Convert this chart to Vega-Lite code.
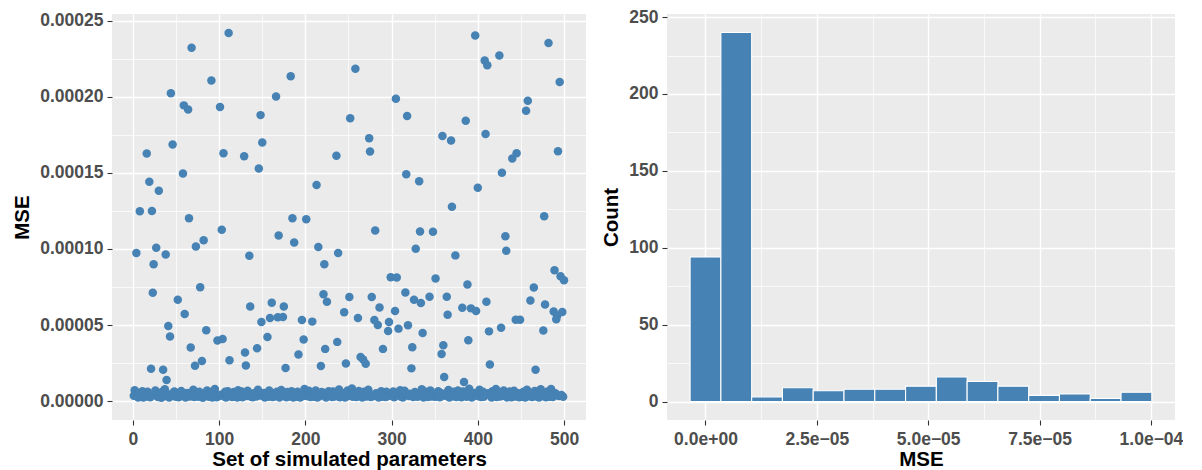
{
  "$schema": "https://vega.github.io/schema/vega-lite/v6.json",
  "background": "white",
  "padding": {"left": 12, "top": 8, "right": 0, "bottom": 0},
  "bounds": "flush",
  "spacing": 81,
  "config": {
    "font": "Liberation Sans",
    "view": {"fill": "#EBEBEB", "stroke": null},
    "axis": {
      "labelFont": "Liberation Sans", "labelFontSize": 17.5, "labelFontWeight": "bold", "labelColor": "#4D4D4D",
      "titleFont": "Liberation Sans", "titleFontSize": 20.5, "titleFontWeight": "bold", "titleColor": "#000000",
      "tickColor": "#333333", "tickSize": 5, "tickWidth": 1.1, "domain": false,
      "gridColor": "#FFFFFF", "gridWidth": 1.4
    },
    "axisX": {"labelPadding": 5, "titlePadding": 2},
    "axisY": {"labelPadding": 4, "titlePadding": 7}
  },
  "datasets": {
    "bins": [
      {"x0": -3.455e-6, "x1": 3.455e-6, "count": 94},
      {"x0": 3.455e-6, "x1": 1.0365e-5, "count": 240},
      {"x0": 1.0365e-5, "x1": 1.7275e-5, "count": 3},
      {"x0": 1.7275e-5, "x1": 2.4185e-5, "count": 9},
      {"x0": 2.4185e-5, "x1": 3.1095e-5, "count": 7},
      {"x0": 3.1095e-5, "x1": 3.8005e-5, "count": 8},
      {"x0": 3.8005e-5, "x1": 4.4915e-5, "count": 8},
      {"x0": 4.4915e-5, "x1": 5.1825e-5, "count": 10},
      {"x0": 5.1825e-5, "x1": 5.8735e-5, "count": 16},
      {"x0": 5.8735e-5, "x1": 6.5645e-5, "count": 13},
      {"x0": 6.5645e-5, "x1": 7.2555e-5, "count": 10},
      {"x0": 7.2555e-5, "x1": 7.9465e-5, "count": 4},
      {"x0": 7.9465e-5, "x1": 8.6375e-5, "count": 5},
      {"x0": 8.6375e-5, "x1": 9.3285e-5, "count": 2},
      {"x0": 9.3285e-5, "x1": 1.00195e-4, "count": 6}
    ],
    "pts": [
      {"i":111,"m":2.419e-4},{"i":68,"m":2.321e-4},{"i":397,"m":2.402e-4},{"i":482,"m":2.352e-4},{"i":425,"m":2.271e-4},
      {"i":408,"m":2.237e-4},{"i":411,"m":2.206e-4},{"i":258,"m":2.184e-4},{"i":183,"m":2.134e-4},{"i":91,"m":2.106e-4},
      {"i":495,"m":2.097e-4},{"i":44,"m":2.023e-4},{"i":166,"m":2.001e-4},{"i":305,"m":1.986e-4},{"i":458,"m":1.973e-4},
      {"i":59,"m":1.943e-4},{"i":64,"m":1.916e-4},{"i":101,"m":1.932e-4},{"i":456,"m":1.908e-4},{"i":148,"m":1.879e-4},
      {"i":318,"m":1.873e-4},{"i":252,"m":1.858e-4},{"i":386,"m":1.842e-4},{"i":409,"m":1.755e-4},{"i":274,"m":1.727e-4},
      {"i":359,"m":1.742e-4},{"i":369,"m":1.712e-4},{"i":46,"m":1.686e-4},{"i":150,"m":1.699e-4},{"i":275,"m":1.640e-4},
      {"i":493,"m":1.642e-4},{"i":445,"m":1.629e-4},{"i":440,"m":1.594e-4},{"i":16,"m":1.627e-4},{"i":105,"m":1.629e-4},
      {"i":129,"m":1.609e-4},{"i":236,"m":1.612e-4},{"i":146,"m":1.529e-4},{"i":58,"m":1.496e-4},{"i":317,"m":1.490e-4},
      {"i":428,"m":1.500e-4},{"i":19,"m":1.442e-4},{"i":332,"m":1.444e-4},{"i":213,"m":1.420e-4},{"i":30,"m":1.383e-4},
      {"i":400,"m":1.402e-4},{"i":370,"m":1.278e-4},{"i":8,"m":1.248e-4},{"i":22,"m":1.250e-4},{"i":477,"m":1.215e-4},
      {"i":65,"m":1.202e-4},{"i":185,"m":1.202e-4},{"i":201,"m":1.196e-4},{"i":103,"m":1.126e-4},{"i":281,"m":1.121e-4},
      {"i":333,"m":1.115e-4},{"i":348,"m":1.113e-4},{"i":169,"m":1.089e-4},{"i":432,"m":1.084e-4},{"i":82,"m":1.058e-4},
      {"i":187,"m":1.043e-4},{"i":73,"m":1.017e-4},{"i":27,"m":1.008e-4},{"i":215,"m":1.013e-4},{"i":328,"m":1.002e-4},
      {"i":433,"m":9.89e-5},{"i":4,"m":9.73e-5},{"i":38,"m":9.63e-5},{"i":135,"m":9.56e-5},{"i":238,"m":9.73e-5},
      {"i":374,"m":9.58e-5},{"i":24,"m":8.99e-5},{"i":222,"m":8.99e-5},{"i":489,"m":8.60e-5},{"i":496,"m":8.21e-5},
      {"i":500,"m":7.95e-5},{"i":299,"m":8.14e-5},{"i":306,"m":8.12e-5},{"i":351,"m":8.06e-5},{"i":388,"m":7.67e-5},
      {"i":78,"m":7.49e-5},{"i":465,"m":7.47e-5},{"i":23,"m":7.12e-5},{"i":221,"m":7.03e-5},{"i":316,"m":7.14e-5},
      {"i":52,"m":6.66e-5},{"i":251,"m":6.84e-5},{"i":277,"m":6.84e-5},{"i":364,"m":6.86e-5},{"i":344,"m":6.86e-5},
      {"i":326,"m":6.66e-5},{"i":225,"m":6.53e-5},{"i":334,"m":6.45e-5},{"i":161,"m":6.47e-5},{"i":410,"m":6.53e-5},
      {"i":461,"m":6.62e-5},{"i":136,"m":6.23e-5},{"i":175,"m":6.23e-5},{"i":286,"m":6.16e-5},{"i":382,"m":6.14e-5},
      {"i":478,"m":6.36e-5},{"i":392,"m":6.10e-5},{"i":398,"m":5.92e-5},{"i":304,"m":5.92e-5},{"i":245,"m":5.84e-5},
      {"i":488,"m":5.90e-5},{"i":498,"m":5.86e-5},{"i":492,"m":5.62e-5},{"i":60,"m":5.73e-5},{"i":365,"m":5.68e-5},
      {"i":159,"m":5.47e-5},{"i":168,"m":5.51e-5},{"i":174,"m":5.53e-5},{"i":261,"m":5.47e-5},{"i":196,"m":5.34e-5},
      {"i":280,"m":5.34e-5},{"i":444,"m":5.36e-5},{"i":449,"m":5.36e-5},{"i":491,"m":5.38e-5},{"i":149,"m":5.20e-5},
      {"i":208,"m":5.23e-5},{"i":297,"m":5.20e-5},{"i":284,"m":5.01e-5},{"i":319,"m":4.99e-5},{"i":308,"m":4.77e-5},
      {"i":296,"m":4.62e-5},{"i":413,"m":4.59e-5},{"i":427,"m":4.83e-5},{"i":476,"m":4.64e-5},{"i":85,"m":4.66e-5},
      {"i":41,"m":4.94e-5},{"i":43,"m":4.25e-5},{"i":156,"m":4.22e-5},{"i":336,"m":4.49e-5},{"i":98,"m":3.99e-5},
      {"i":104,"m":4.09e-5},{"i":198,"m":4.05e-5},{"i":389,"m":4.01e-5},{"i":237,"m":3.90e-5},{"i":67,"m":3.53e-5},
      {"i":144,"m":3.48e-5},{"i":223,"m":3.44e-5},{"i":290,"m":3.44e-5},{"i":324,"m":3.55e-5},{"i":360,"m":3.68e-5},
      {"i":358,"m":3.11e-5},{"i":130,"m":3.20e-5},{"i":192,"m":3.07e-5},{"i":264,"m":2.90e-5},{"i":267,"m":2.74e-5},
      {"i":270,"m":2.46e-5},{"i":72,"m":2.33e-5},{"i":80,"m":2.64e-5},{"i":112,"m":2.70e-5},{"i":131,"m":2.35e-5},
      {"i":177,"m":2.18e-5},{"i":218,"m":2.31e-5},{"i":247,"m":2.48e-5},{"i":323,"m":2.16e-5},{"i":414,"m":2.42e-5},
      {"i":467,"m":2.07e-5},{"i":21,"m":2.13e-5},{"i":35,"m":2.07e-5},{"i":361,"m":1.59e-5},{"i":39,"m":1.39e-5},
      {"i":384,"m":1.26e-5},
      {"i":1,"m":3.62e-6},{"i":2,"m":7.26e-6},{"i":3,"m":3.98e-6},{"i":5,"m":5.44e-6},{"i":6,"m":2.54e-6},{"i":7,"m":4.96e-6},{"i":9,"m":2.9e-6},{"i":10,"m":4.22e-6},{"i":11,"m":6.66e-6},{"i":12,"m":2.42e-6},
      {"i":13,"m":5.08e-6},{"i":14,"m":3.86e-6},{"i":15,"m":3.14e-6},{"i":17,"m":6.18e-6},{"i":18,"m":4.34e-6},{"i":20,"m":2.66e-6},{"i":25,"m":4.1e-6},{"i":26,"m":7.02e-6},{"i":28,"m":3.5e-6},{"i":29,"m":2.78e-6},
      {"i":31,"m":5.32e-6},{"i":32,"m":3.98e-6},{"i":33,"m":2.3e-6},{"i":34,"m":6.3e-6},{"i":36,"m":3.26e-6},{"i":37,"m":7.86e-6},{"i":40,"m":4.22e-6},{"i":42,"m":2.54e-6},{"i":45,"m":4.96e-6},{"i":47,"m":3.38e-6},
      {"i":48,"m":6.42e-6},{"i":49,"m":3.74e-6},{"i":50,"m":3.02e-6},
      {"i":51,"m":4.1e-6},{"i":53,"m":2.66e-6},{"i":54,"m":5.32e-6},{"i":55,"m":3.38e-6},{"i":56,"m":6.78e-6},{"i":57,"m":3.62e-6},{"i":61,"m":2.42e-6},{"i":62,"m":4.34e-6},{"i":63,"m":5.44e-6},{"i":66,"m":3.14e-6},
      {"i":69,"m":3.98e-6},{"i":70,"m":7.5e-6},{"i":71,"m":2.78e-6},{"i":74,"m":5.2e-6},{"i":75,"m":3.74e-6},{"i":76,"m":3.02e-6},{"i":77,"m":6.3e-6},{"i":79,"m":4.22e-6},{"i":81,"m":2.3e-6},{"i":83,"m":4.96e-6},
      {"i":84,"m":3.5e-6},{"i":86,"m":7.14e-6},{"i":87,"m":3.86e-6},{"i":88,"m":2.9e-6},{"i":89,"m":5.2e-6},{"i":90,"m":6.06e-6},{"i":92,"m":2.54e-6},{"i":93,"m":4.1e-6},{"i":94,"m":3.26e-6},{"i":95,"m":8.1e-6},
      {"i":96,"m":4.34e-6},{"i":97,"m":2.66e-6},{"i":99,"m":3.98e-6},{"i":100,"m":3.5e-6},
      {"i":102,"m":4.22e-6},{"i":106,"m":3.14e-6},{"i":107,"m":6.18e-6},{"i":108,"m":2.54e-6},{"i":109,"m":4.1e-6},{"i":110,"m":6.54e-6},{"i":113,"m":3.38e-6},{"i":114,"m":5.08e-6},{"i":115,"m":2.78e-6},{"i":116,"m":3.74e-6},
      {"i":117,"m":6.06e-6},{"i":118,"m":3.02e-6},{"i":119,"m":5.2e-6},{"i":120,"m":4.1e-6},{"i":121,"m":2.42e-6},{"i":122,"m":7.26e-6},{"i":123,"m":3.62e-6},{"i":124,"m":3.26e-6},{"i":125,"m":4.96e-6},{"i":126,"m":6.42e-6},
      {"i":127,"m":2.66e-6},{"i":128,"m":3.98e-6},{"i":132,"m":3.5e-6},{"i":133,"m":6.9e-6},{"i":134,"m":4.34e-6},{"i":137,"m":2.9e-6},{"i":138,"m":4.1e-6},{"i":139,"m":2.66e-6},{"i":140,"m":5.32e-6},{"i":141,"m":3.86e-6},
      {"i":142,"m":5.08e-6},{"i":143,"m":3.14e-6},{"i":145,"m":7.62e-6},{"i":147,"m":3.74e-6},
      {"i":151,"m":3.5e-6},{"i":152,"m":5.44e-6},{"i":153,"m":2.54e-6},{"i":154,"m":4.22e-6},{"i":155,"m":4.96e-6},{"i":157,"m":3.02e-6},{"i":158,"m":7.02e-6},{"i":160,"m":3.74e-6},{"i":162,"m":2.78e-6},{"i":163,"m":5.2e-6},
      {"i":164,"m":3.98e-6},{"i":165,"m":3.26e-6},{"i":167,"m":6.18e-6},{"i":170,"m":2.42e-6},{"i":171,"m":4.22e-6},{"i":172,"m":7.38e-6},{"i":173,"m":3.62e-6},{"i":176,"m":4.1e-6},{"i":178,"m":2.66e-6},{"i":179,"m":6.06e-6},
      {"i":180,"m":4.34e-6},{"i":181,"m":3.14e-6},{"i":182,"m":3.62e-6},{"i":184,"m":6.66e-6},{"i":186,"m":2.54e-6},{"i":188,"m":5.08e-6},{"i":189,"m":3.98e-6},{"i":190,"m":2.9e-6},{"i":191,"m":6.3e-6},{"i":193,"m":4.22e-6},
      {"i":194,"m":2.54e-6},{"i":195,"m":5.32e-6},{"i":197,"m":3.38e-6},{"i":199,"m":7.98e-6},{"i":200,"m":3.86e-6},
      {"i":202,"m":4.34e-6},{"i":203,"m":3.26e-6},{"i":204,"m":6.9e-6},{"i":205,"m":3.74e-6},{"i":206,"m":2.78e-6},{"i":207,"m":5.32e-6},{"i":209,"m":4.1e-6},{"i":210,"m":2.9e-6},{"i":211,"m":5.08e-6},{"i":212,"m":7.14e-6},
      {"i":214,"m":2.54e-6},{"i":216,"m":4.22e-6},{"i":217,"m":3.5e-6},{"i":219,"m":6.06e-6},{"i":220,"m":4.96e-6},{"i":224,"m":2.42e-6},{"i":226,"m":3.98e-6},{"i":227,"m":6.54e-6},{"i":228,"m":3.38e-6},{"i":229,"m":5.2e-6},
      {"i":230,"m":3.74e-6},{"i":231,"m":2.78e-6},{"i":232,"m":6.42e-6},{"i":233,"m":4.1e-6},{"i":234,"m":3.14e-6},{"i":235,"m":4.96e-6},{"i":239,"m":7.74e-6},{"i":240,"m":2.66e-6},{"i":241,"m":3.98e-6},{"i":242,"m":3.62e-6},
      {"i":243,"m":5.44e-6},{"i":244,"m":4.22e-6},{"i":246,"m":2.54e-6},{"i":248,"m":3.86e-6},{"i":249,"m":7.14e-6},{"i":250,"m":3.38e-6},
      {"i":253,"m":4.22e-6},{"i":254,"m":8.34e-6},{"i":255,"m":3.02e-6},{"i":256,"m":5.44e-6},{"i":257,"m":5.08e-6},{"i":259,"m":2.78e-6},{"i":260,"m":3.98e-6},{"i":262,"m":6.78e-6},{"i":263,"m":3.26e-6},{"i":265,"m":4.34e-6},
      {"i":266,"m":2.42e-6},{"i":268,"m":6.3e-6},{"i":269,"m":3.62e-6},{"i":271,"m":3.14e-6},{"i":272,"m":5.32e-6},{"i":273,"m":7.5e-6},{"i":276,"m":2.78e-6},{"i":278,"m":4.1e-6},{"i":279,"m":3.5e-6},{"i":282,"m":5.32e-6},
      {"i":283,"m":4.34e-6},{"i":285,"m":2.54e-6},{"i":287,"m":3.86e-6},{"i":288,"m":6.54e-6},{"i":289,"m":2.9e-6},{"i":291,"m":5.2e-6},{"i":292,"m":4.22e-6},{"i":293,"m":2.78e-6},{"i":294,"m":6.18e-6},{"i":295,"m":3.26e-6},
      {"i":298,"m":3.74e-6},{"i":300,"m":4.96e-6},
      {"i":301,"m":3.62e-6},{"i":302,"m":6.42e-6},{"i":303,"m":2.66e-6},{"i":307,"m":4.22e-6},{"i":309,"m":3.98e-6},{"i":310,"m":7.26e-6},{"i":311,"m":3.02e-6},{"i":312,"m":5.08e-6},{"i":313,"m":2.54e-6},{"i":314,"m":4.1e-6},
      {"i":315,"m":6.9e-6},{"i":320,"m":3.38e-6},{"i":321,"m":4.96e-6},{"i":322,"m":3.62e-6},{"i":325,"m":2.78e-6},{"i":327,"m":6.06e-6},{"i":329,"m":4.22e-6},{"i":330,"m":3.02e-6},{"i":331,"m":5.2e-6},{"i":335,"m":7.86e-6},
      {"i":337,"m":2.54e-6},{"i":338,"m":3.98e-6},{"i":339,"m":3.26e-6},{"i":340,"m":6.3e-6},{"i":341,"m":4.34e-6},{"i":342,"m":2.78e-6},{"i":343,"m":3.74e-6},{"i":345,"m":7.02e-6},{"i":346,"m":3.14e-6},{"i":347,"m":5.08e-6},
      {"i":349,"m":4.1e-6},{"i":350,"m":2.9e-6},
      {"i":352,"m":4.34e-6},{"i":353,"m":3.14e-6},{"i":354,"m":6.66e-6},{"i":355,"m":3.98e-6},{"i":356,"m":2.66e-6},{"i":357,"m":5.44e-6},{"i":362,"m":3.62e-6},{"i":363,"m":5.2e-6},{"i":366,"m":7.38e-6},{"i":367,"m":2.54e-6},
      {"i":368,"m":4.22e-6},{"i":371,"m":3.26e-6},{"i":372,"m":6.18e-6},{"i":373,"m":4.22e-6},{"i":375,"m":2.78e-6},{"i":376,"m":3.86e-6},{"i":377,"m":7.02e-6},{"i":378,"m":3.38e-6},{"i":379,"m":4.96e-6},{"i":380,"m":3.74e-6},
      {"i":381,"m":2.66e-6},{"i":383,"m":6.42e-6},{"i":385,"m":4.1e-6},{"i":387,"m":3.02e-6},{"i":390,"m":8.22e-6},{"i":391,"m":5.08e-6},{"i":393,"m":2.42e-6},{"i":394,"m":3.86e-6},{"i":395,"m":3.5e-6},{"i":396,"m":5.44e-6},
      {"i":399,"m":4.22e-6},
      {"i":401,"m":3.26e-6},{"i":402,"m":7.62e-6},{"i":403,"m":4.96e-6},{"i":404,"m":2.78e-6},{"i":405,"m":4.1e-6},{"i":406,"m":6.18e-6},{"i":407,"m":2.9e-6},{"i":412,"m":5.32e-6},{"i":415,"m":3.86e-6},{"i":416,"m":2.54e-6},
      {"i":417,"m":6.54e-6},{"i":418,"m":4.22e-6},{"i":419,"m":3.38e-6},{"i":420,"m":5.2e-6},{"i":421,"m":8.1e-6},{"i":422,"m":2.78e-6},{"i":423,"m":3.98e-6},{"i":424,"m":6.06e-6},{"i":426,"m":3.14e-6},{"i":429,"m":4.34e-6},
      {"i":430,"m":7.14e-6},{"i":431,"m":3.62e-6},{"i":434,"m":2.54e-6},{"i":435,"m":5.2e-6},{"i":436,"m":3.5e-6},{"i":437,"m":6.42e-6},{"i":438,"m":4.1e-6},{"i":439,"m":2.66e-6},{"i":441,"m":4.34e-6},{"i":442,"m":6.9e-6},
      {"i":443,"m":3.14e-6},{"i":446,"m":3.86e-6},{"i":447,"m":5.32e-6},{"i":448,"m":2.66e-6},{"i":450,"m":4.22e-6},
      {"i":451,"m":4.96e-6},{"i":452,"m":2.9e-6},{"i":453,"m":6.3e-6},{"i":454,"m":3.74e-6},{"i":455,"m":2.42e-6},{"i":457,"m":7.5e-6},{"i":459,"m":4.22e-6},{"i":460,"m":3.26e-6},{"i":462,"m":5.32e-6},{"i":463,"m":2.78e-6},
      {"i":464,"m":3.98e-6},{"i":466,"m":6.78e-6},{"i":468,"m":3.14e-6},{"i":469,"m":4.22e-6},{"i":470,"m":5.44e-6},{"i":471,"m":2.54e-6},{"i":472,"m":4.1e-6},{"i":473,"m":7.86e-6},{"i":474,"m":3.5e-6},{"i":475,"m":5.08e-6},
      {"i":479,"m":2.66e-6},{"i":480,"m":3.74e-6},{"i":481,"m":6.42e-6},{"i":483,"m":3.02e-6},{"i":484,"m":4.34e-6},{"i":485,"m":7.98e-6},{"i":486,"m":3.86e-6},{"i":487,"m":2.78e-6},{"i":490,"m":5.32e-6},{"i":494,"m":3.38e-6},
      {"i":497,"m":4.1e-6},{"i":499,"m":3.02e-6}
    ]
  },
  "hconcat": [
    {
      "width": 474,
      "height": 406,
      "data": {"name": "pts"},
      "layer": [
        {
          "mark": {"type": "point", "filled": true, "opacity": 0},
          "encoding": {
            "x": {"field": "i", "type": "quantitative", "scale": {"domain": [-24.3, 525.5], "nice": false, "zero": false},
                  "axis": {"orient": "bottom", "values": [50, 150, 250, 350, 450], "labels": false, "ticks": false, "title": null, "grid": true, "gridWidth": 0.7}},
            "y": {"field": "m", "type": "quantitative", "scale": {"domain": [-1.23e-5, 2.543e-4], "nice": false, "zero": false},
                  "axis": {"orient": "left", "values": [2.5e-5, 7.5e-5, 1.25e-4, 1.75e-4, 2.25e-4], "labels": false, "ticks": false, "title": null, "grid": true, "gridWidth": 0.7}}
          }
        },
        {
          "mark": {"type": "point", "filled": true, "opacity": 1, "color": "#4682B4", "size": 72},
          "encoding": {
            "x": {"field": "i", "type": "quantitative", "scale": {"domain": [-24.3, 525.5], "nice": false, "zero": false},
                  "axis": {"orient": "bottom", "values": [0, 100, 200, 300, 400, 500], "format": "d", "title": "Set of simulated parameters", "grid": true}},
            "y": {"field": "m", "type": "quantitative", "scale": {"domain": [-1.23e-5, 2.543e-4], "nice": false, "zero": false},
                  "axis": {"orient": "left", "values": [0, 5e-5, 1e-4, 1.5e-4, 2e-4, 2.5e-4], "format": ".5f", "title": "MSE", "grid": true}}
          }
        }
      ],
      "resolve": {"axis": {"x": "independent", "y": "independent"}}
    },
    {
      "width": 508,
      "height": 406,
      "data": {"name": "bins"},
      "layer": [
        {
          "mark": {"type": "rect", "opacity": 0},
          "encoding": {
            "x": {"field": "x0", "type": "quantitative", "scale": {"domain": [-8.64e-6, 1.054e-4], "nice": false, "zero": false},
                  "axis": {"orient": "bottom", "values": [1.25e-5, 3.75e-5, 6.25e-5, 8.75e-5], "labels": false, "ticks": false, "title": null, "grid": true, "gridWidth": 0.7}},
            "x2": {"field": "x1"},
            "y": {"field": "count", "type": "quantitative", "scale": {"domain": [-12, 252], "nice": false, "zero": false},
                  "axis": {"orient": "left", "values": [25, 75, 125, 175, 225], "labels": false, "ticks": false, "title": null, "grid": true, "gridWidth": 0.7}},
            "y2": {"datum": 0}
          }
        },
        {
          "mark": {"type": "rect", "color": "#4682B4", "stroke": "#FFFFFF", "strokeWidth": 1.1},
          "encoding": {
            "x": {"field": "x0", "type": "quantitative", "scale": {"domain": [-8.64e-6, 1.054e-4], "nice": false, "zero": false},
                  "axis": {"orient": "bottom", "values": [0, 2.5e-5, 5e-5, 7.5e-5, 1e-4], "title": "MSE", "grid": true,
                           "labelExpr": "datum.value < 1e-6 ? '0.0e+00' : datum.value < 3e-5 ? '2.5e−05' : datum.value < 6e-5 ? '5.0e−05' : datum.value < 9e-5 ? '7.5e−05' : '1.0e−04'"}},
            "x2": {"field": "x1"},
            "y": {"field": "count", "type": "quantitative", "scale": {"domain": [-12, 252], "nice": false, "zero": false},
                  "axis": {"orient": "left", "values": [0, 50, 100, 150, 200, 250], "format": "d", "title": "Count", "grid": true}},
            "y2": {"datum": 0}
          }
        }
      ],
      "resolve": {"axis": {"x": "independent", "y": "independent"}}
    }
  ]
}
